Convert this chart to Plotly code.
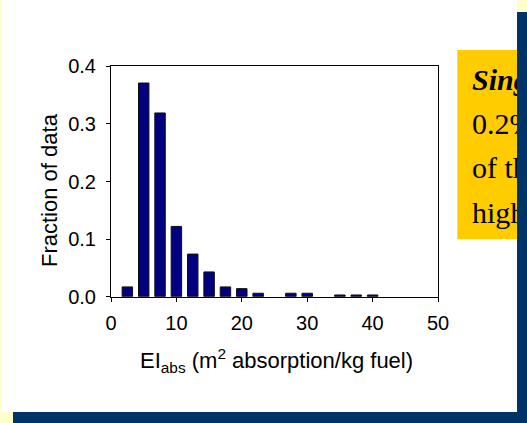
import plotly.graph_objects as go

# ---- data ----
ei_abs_bins = [2.5, 5, 7.5, 10, 12.5, 15, 17.5, 20, 22.5, 27.5, 30, 35, 37.5, 40]
fraction_of_data = [0.017, 0.371, 0.319, 0.122, 0.074, 0.043, 0.017, 0.014, 0.006,
                    0.006, 0.006, 0.003, 0.003, 0.003]
x_tick_vals = [0, 10, 20, 30, 40, 50]
y_tick_vals = [0.0, 0.1, 0.2, 0.3, 0.4]
y_title = "Fraction of data"
x_title = "EI<sub>abs</sub> (m<sup>2</sup> absorption/kg fuel)"
box_lines = ["<b><i>Sing</i></b>", "0.2%", "of th", "high"]
box_line_pos = [82, 126.5, 170.5, 215]

W, H = 527, 423


def px(x):
    return x / W


def py(y):
    return 1 - y / H


fig = go.Figure()
fig.add_trace(go.Bar(
    x=ei_abs_bins, y=fraction_of_data, width=1.6,
    marker=dict(color="#000080", line=dict(color="#111111", width=1)),
    xaxis="x", yaxis="y", showlegend=False,
))

# clipped text inside the yellow callout
fig.add_trace(go.Scatter(
    x=[472] * len(box_lines), y=box_line_pos, text=box_lines,
    mode="text", textposition="middle right", cliponaxis=True,
    textfont=dict(family="Liberation Serif", size=30, color="black"),
    xaxis="x2", yaxis="y2", showlegend=False, hoverinfo="skip",
))

axis_common = dict(
    showline=True, linecolor="black", linewidth=1, mirror=True,
    ticks="outside", ticklen=4, tickcolor="black", showgrid=False, zeroline=False,
    automargin=False,
    tickfont=dict(family="Liberation Sans", size=20, color="black"),
)

fig.update_layout(
    template="none",
    width=W, height=H, autosize=False,
    margin=dict(l=0, r=0, t=0, b=0, pad=0),
    paper_bgcolor="#FFFFCC",
    plot_bgcolor="rgba(0,0,0,0)",
    xaxis=dict(domain=[px(111), px(438)], range=[0, 50], tickvals=x_tick_vals,
               anchor="y", ticklabelstandoff=4, **axis_common),
    yaxis=dict(domain=[py(296.7), py(66.3)], range=[0, 0.4], tickvals=y_tick_vals,
               tickformat=".1f", anchor="x", ticklabelstandoff=6, **axis_common),
    xaxis2=dict(domain=[px(457), px(517)], range=[457, 517], visible=False, anchor="y2",
                automargin=False),
    yaxis2=dict(domain=[py(239.3), py(50)], range=[239.3, 50], visible=False, anchor="x2",
                automargin=False),
    shapes=[
        dict(type="rect", xref="paper", yref="paper", x0=px(13), x1=px(527), y0=py(423), y1=py(12),
             fillcolor="#003366", line=dict(width=0), layer="below"),
        dict(type="rect", xref="paper", yref="paper", x0=px(2), x1=px(517), y0=py(412), y1=py(0),
             fillcolor="white", line=dict(width=0), layer="below"),
        dict(type="rect", xref="paper", yref="paper", x0=px(457.3), x1=px(517), y0=py(239.3), y1=py(50),
             fillcolor="#FFCC00", line=dict(width=0), layer="below"),
    ],
    annotations=[
        dict(text=y_title, x=px(49), y=py(190), xref="paper", yref="paper", textangle=-90,
             showarrow=False, xanchor="center", yanchor="middle",
             font=dict(family="Liberation Sans", size=22, color="black")),
        dict(text=x_title, x=px(276.5), y=py(360), xref="paper", yref="paper",
             showarrow=False, xanchor="center", yanchor="middle",
             font=dict(family="Liberation Sans", size=22, color="black")),
    ],
)

fig.write_html(
    "out.html",
    config={"displayModeBar": False},
    post_script="document.body.style.margin='0';document.body.style.overflow='hidden';",
)
